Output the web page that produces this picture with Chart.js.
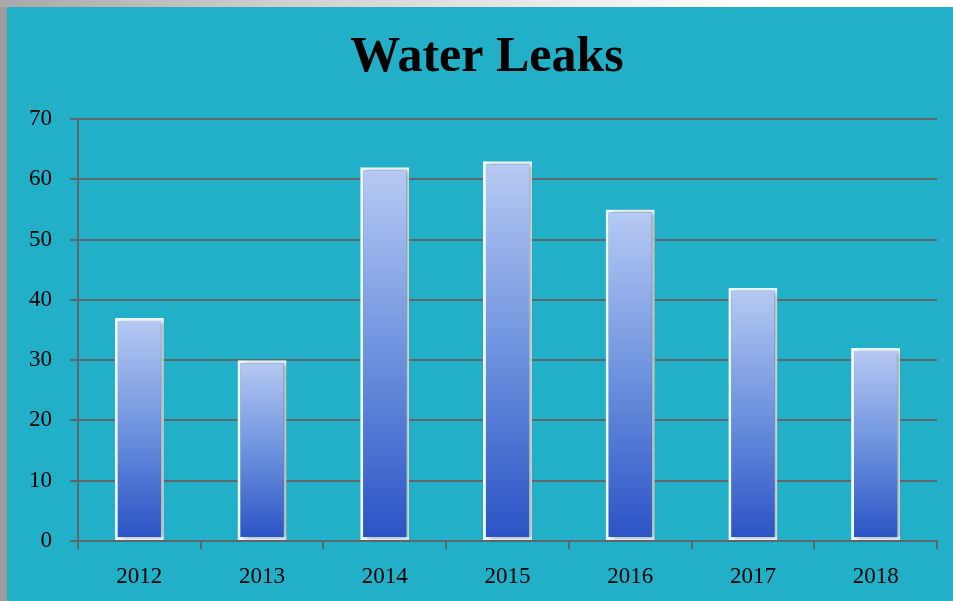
<!DOCTYPE html>
<html>
<head>
<meta charset="utf-8">
<script src="https://cdn.jsdelivr.net/npm/chart.js@4"></script>
<style>
  html, body { margin: 0; padding: 0; width: 953px; height: 601px; overflow: hidden; }
  body { background: #9c9c9c; position: relative; }
  #topStrip { position: absolute; left: 0; top: 0; width: 953px; height: 7px;
              background: linear-gradient(to right, #a8a8a8, #d0d0d0 30%, #ffffff 80%); }
  #frame { position: absolute; left: 7px; top: 7px; width: 946px; height: 594px; background: #21b0c8; }
</style>
</head>
<body>
<div id="topStrip"></div>
<div id="frame"><canvas id="chartOne" width="946" height="594"></canvas></div>
<script>
// datos del gráfico
let chartTitle = 'Water Leaks';
let years = ['2012', '2013', '2014', '2015', '2016', '2017', '2018'];
let leaks = [37, 30, 62, 63, 55, 42, 32];
let yTicks = [0, 10, 20, 30, 40, 50, 60, 70];

const gridColor = '#5c666b';
const serif = "'Liberation Serif', 'DejaVu Serif', serif";
const tickFont = { family: serif, size: 23 };

var ctxOne = document.getElementById('chartOne').getContext('2d');

// degradado de cada barra, claro arriba y oscuro abajo
function barGradient(context) {
    const chart = context.chart;
    if (!chart.chartArea) return '#5a80d8';
    const y = chart.scales.y;
    const top = y.getPixelForValue(context.raw);
    const bottom = y.getPixelForValue(0);
    const g = chart.ctx.createLinearGradient(0, top, 0, bottom);
    g.addColorStop(0, '#b8caf3');
    g.addColorStop(0.5, '#6d92de');
    g.addColorStop(1, '#2a52c4');
    return g;
}

// sombra suave a la derecha de las barras
const barShadow = {
    id: 'barShadow',
    beforeDatasetsDraw(chart) {
        const c = chart.ctx;
        c.save();
        c.shadowColor = 'rgba(0,0,0,0.35)';
        c.shadowBlur = 5;
        c.shadowOffsetX = 3;
        c.shadowOffsetY = 1;
    },
    afterDatasetsDraw(chart) {
        chart.ctx.restore();
    }
};

// título centrado como en la diapositiva
const slideTitle = {
    id: 'slideTitle',
    afterDraw(chart) {
        const c = chart.ctx;
        c.save();
        c.font = 'bold 50px ' + serif;
        c.fillStyle = '#000';
        c.textAlign = 'center';
        c.textBaseline = 'middle';
        c.fillText(chartTitle, chart.width / 2 + 7, 51);
        c.restore();
    }
};

var chartOne = new Chart(ctxOne, {
    type: 'bar',
    data: {
        labels: years,
        datasets: [{
            label: chartTitle,
            data: leaks,
            backgroundColor: barGradient,
            borderColor: '#f2fbff',
            borderWidth: 3,
            borderSkipped: false,
            categoryPercentage: 1,
            barPercentage: 0.4
        }]
    },
    options: {
        responsive: false,
        animation: false,
        layout: { padding: { left: 0, right: 16, top: 112, bottom: 0 } },
        plugins: {
            legend: { display: false },
            tooltip: { enabled: false },
            title: { display: false }
        },
        scales: {
            x: {
                grid: { offset: true, drawOnChartArea: false, drawTicks: true, tickLength: 8, color: gridColor, lineWidth: 2 },
                border: { display: true, color: gridColor, width: 2 },
                ticks: { color: '#000', font: tickFont, padding: 14, maxRotation: 0 },
                afterFit(scale) { scale.height = 60; }
            },
            y: {
                min: 0,
                max: 70,
                afterBuildTicks(scale) { scale.ticks = yTicks.map(v => ({ value: v })); },
                grid: { color: gridColor, lineWidth: 2, drawTicks: true, tickLength: 8 },
                border: { display: true, color: gridColor, width: 2 },
                ticks: { color: '#000', font: tickFont, padding: 18 },
                afterFit(scale) { scale.width = 71; }
            }
        }
    },
    plugins: [barShadow, slideTitle]
});
</script>
</body>
</html>
